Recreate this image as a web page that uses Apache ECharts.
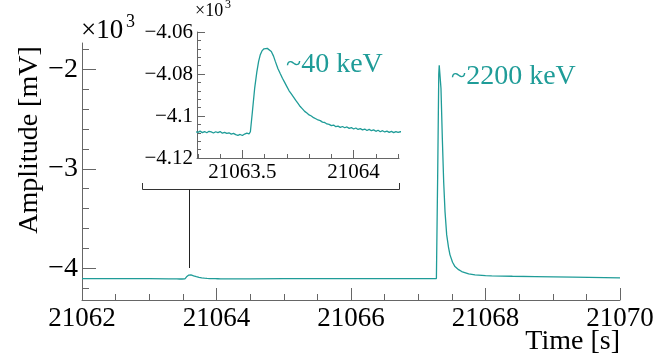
<!DOCTYPE html>
<html>
<head>
<meta charset="utf-8">
<script src="https://cdn.jsdelivr.net/npm/echarts@6/dist/echarts.min.js"></script>
<style>
html,body{margin:0;padding:0;background:#fff;}
#c{width:658px;height:358px;}
</style>
</head>
<body>
<div id="c"></div>
<script>
// ---- data (time in s, amplitude in mV) ----
const times = [
  21062.00, 21062.50, 21063.00,
  21063.29, 21063.30, 21063.31, 21063.32, 21063.33, 21063.34, 21063.35, 21063.36, 21063.37, 21063.38,
  21063.39, 21063.40, 21063.41, 21063.42, 21063.43, 21063.44, 21063.45, 21063.46, 21063.47, 21063.48,
  21063.49, 21063.50, 21063.51, 21063.52, 21063.53, 21063.536, 21063.545, 21063.555, 21063.565, 21063.573,
  21063.58, 21063.588, 21063.597, 21063.605, 21063.612, 21063.62, 21063.63, 21063.64, 21063.648, 21063.66,
  21063.67, 21063.68, 21063.69, 21063.70, 21063.71, 21063.72, 21063.73, 21063.74, 21063.75, 21063.76,
  21063.77, 21063.78, 21063.79, 21063.80, 21063.81, 21063.82, 21063.83, 21063.84, 21063.85, 21063.86,
  21063.87, 21063.88, 21063.89, 21063.90, 21063.91, 21063.92, 21063.93, 21063.94, 21063.95, 21063.96,
  21063.97, 21063.98, 21063.99, 21064.00, 21064.01, 21064.02, 21064.03, 21064.04, 21064.05, 21064.06,
  21064.07, 21064.08, 21064.09, 21064.10, 21064.11, 21064.12, 21064.13, 21064.14, 21064.15, 21064.16,
  21064.17, 21064.18, 21064.19, 21064.20, 21064.21,
  21064.50, 21065.00, 21066.00, 21067.00, 21067.27,
  21067.275, 21067.29, 21067.305, 21067.312, 21067.319, 21067.326, 21067.338, 21067.358, 21067.378, 21067.398,
  21067.423, 21067.45, 21067.472, 21067.51, 21067.546, 21067.60, 21067.646, 21067.75, 21067.844, 21068.00,
  21068.092, 21068.40, 21068.736, 21069.30, 21070.00
];
const amplitudes = [
  -4104, -4105, -4106,
  -4107.5, -4107.8, -4107.2, -4107.9, -4107.4, -4108.0, -4107.3, -4107.6, -4108.1, -4107.5,
  -4107.9, -4107.4, -4108.2, -4107.8, -4108.3, -4108.0, -4108.6, -4108.3, -4108.9, -4109.2,
  -4108.8, -4109.3, -4108.6, -4108.2, -4108.5, -4107.5, -4098, -4087, -4079, -4074,
  -4071, -4069, -4068, -4067.4, -4067.8, -4068.3, -4069.3, -4071.5, -4074, -4077.5,
  -4079.8, -4082, -4084, -4086, -4088, -4089.5, -4091, -4092.6, -4094, -4095.5,
  -4096.6, -4097.8, -4098.6, -4099.5, -4100.0, -4100.8, -4101.3, -4101.9, -4102.2, -4102.9,
  -4103.1, -4103.8, -4104.0, -4104.6, -4104.3, -4105.1, -4104.8, -4105.4, -4105.0, -4105.6,
  -4105.2, -4105.9, -4105.5, -4106.2, -4105.7, -4106.4, -4106.0, -4106.6, -4106.2, -4106.9,
  -4106.4, -4107.0, -4106.6, -4107.3, -4106.8, -4107.5, -4107.0, -4107.6, -4107.2, -4107.8,
  -4107.3, -4107.9, -4107.4, -4107.8, -4107.5,
  -4107, -4106, -4105, -4104, -4104,
  -4100, -3000, -2050, -1960, -1940, -1975, -2191, -2693, -3130, -3431,
  -3665, -3790, -3866, -3940, -3984, -4015, -4034, -4057, -4067, -4074,
  -4077, -4081, -4084, -4089, -4098
];
const mainYMajor = [-4000, -3000, -2000];
const mainYMinor = [-4200, -3800, -3600, -3400, -3200, -2800, -2600, -2400, -2200, -1800];
const insetXMajor = [21063.5, 21064];
const insetXMinor = [21063.3, 21063.4, 21063.6, 21063.7, 21063.8, 21063.9, 21064.1, 21064.2];
const labels = { xTitle: 'Time [s]', yTitle: 'Amplitude [mV]', expBase: '×10', expPow: '3', small: '~40 keV', big: '~2200 keV' };

const data = times.map((t, i) => [t, amplitudes[i]]);
const TEAL = '#1f9c98';
const AX = '#666';
const FONT = '"Liberation Serif", "Times New Roman", serif';
const minus = s => String(s).replace('-', '\u2212');

const chart = echarts.init(document.getElementById('c'), null, { renderer: 'canvas' });
chart.setOption({
  animation: false,
  backgroundColor: '#fff',
  grid: [
    { left: 82, right: 38, top: 43, bottom: 58 },
    { left: 197, top: 32, width: 202, height: 126 }
  ],
  xAxis: [
    { gridIndex: 0, type: 'value', position: 'bottom', min: 21062, max: 21070, interval: 2,
      axisLine: { show: true, lineStyle: { color: AX } },
      axisTick: { inside: true, length: 12, lineStyle: { color: AX } },
      minorTick: { show: true, splitNumber: 4, length: 6, lineStyle: { color: AX } },
      splitLine: { show: false },
      axisLabel: { color: '#000', fontFamily: FONT, fontSize: 27, margin: 5, formatter: v => String(v) } },
    { gridIndex: 1, type: 'value', position: 'bottom', min: 21063.296, max: 21064.204,
      axisLine: { show: true, lineStyle: { color: AX } },
      axisTick: { inside: true, length: 8, customValues: insetXMajor, lineStyle: { color: AX } },
      splitLine: { show: false },
      axisLabel: { color: '#000', fontFamily: FONT, fontSize: 21, margin: 4, customValues: insetXMajor,
                   formatter: v => String(v) } },
    { gridIndex: 1, type: 'value', position: 'bottom', offset: 0, min: 21063.296, max: 21064.204,
      axisLine: { show: false },
      axisTick: { inside: true, length: 4, customValues: insetXMinor, lineStyle: { color: AX } },
      splitLine: { show: false },
      axisLabel: { show: false } }
  ],
  yAxis: [
    { gridIndex: 0, type: 'value', position: 'left', min: -4320, max: -1735,
      axisLine: { show: true, lineStyle: { color: AX } },
      axisTick: { inside: true, length: 14, customValues: mainYMajor, lineStyle: { color: AX } },
      splitLine: { show: false },
      axisLabel: { color: '#000', fontFamily: FONT, fontSize: 28, margin: 4, customValues: mainYMajor,
                   formatter: v => minus(v / 1000) } },
    { gridIndex: 0, type: 'value', position: 'left', offset: 0, min: -4320, max: -1735,
      axisLine: { show: false },
      axisTick: { inside: true, length: 7, customValues: mainYMinor, lineStyle: { color: AX } },
      splitLine: { show: false },
      axisLabel: { show: false } },
    { gridIndex: 1, type: 'value', position: 'left', min: -4120, max: -4060, interval: 20,
      axisLine: { show: true, lineStyle: { color: AX } },
      axisTick: { inside: true, length: 8, lineStyle: { color: AX } },
      minorTick: { show: true, splitNumber: 5, length: 4, lineStyle: { color: AX } },
      splitLine: { show: false },
      axisLabel: { color: '#000', fontFamily: FONT, fontSize: 21, margin: 4,
                   formatter: v => minus(v / 1000) } }
  ],
  series: [
    { type: 'line', xAxisIndex: 0, yAxisIndex: 0, data: data, showSymbol: false, symbol: 'none',
      lineStyle: { color: TEAL, width: 1.3 }, clip: true },
    { type: 'line', xAxisIndex: 1, yAxisIndex: 2, data: data, showSymbol: false, symbol: 'none',
      lineStyle: { color: TEAL, width: 1.3 }, clip: true }
  ],
  graphic: [
    { type: 'polyline', shape: { points: [[142.5, 183], [142.5, 189.5], [399.5, 189.5], [399.5, 183]] },
      style: { stroke: '#333', lineWidth: 1, fill: null } },
    { type: 'line', shape: { x1: 189.5, y1: 189.5, x2: 189.5, y2: 268 },
      style: { stroke: '#222', lineWidth: 1 } },
    { type: 'text', x: 30, y: 140, rotation: Math.PI / 2,
      style: { text: labels.yTitle, font: '28px ' + FONT, fill: '#000', textAlign: 'center', textVerticalAlign: 'middle' } },
    { type: 'text', x: 620, y: 342,
      style: { text: labels.xTitle, font: '28px ' + FONT, fill: '#000', textAlign: 'right', textVerticalAlign: 'middle' } },
    { type: 'text', x: 81, y: 31,
      style: { text: labels.expBase, font: '27px ' + FONT, fill: '#000', textAlign: 'left', textVerticalAlign: 'middle' } },
    { type: 'text', x: 126, y: 22,
      style: { text: labels.expPow, font: '18px ' + FONT, fill: '#000', textAlign: 'left', textVerticalAlign: 'middle' } },
    { type: 'text', x: 195, y: 11,
      style: { text: labels.expBase, font: '18px ' + FONT, fill: '#000', textAlign: 'left', textVerticalAlign: 'middle' } },
    { type: 'text', x: 225, y: 5,
      style: { text: labels.expPow, font: '12px ' + FONT, fill: '#000', textAlign: 'left', textVerticalAlign: 'middle' } },
    { type: 'text', x: 286, y: 65,
      style: { text: labels.small, font: '28px ' + FONT, fill: TEAL, textAlign: 'left', textVerticalAlign: 'middle' } },
    { type: 'text', x: 451, y: 77,
      style: { text: labels.big, font: '28px ' + FONT, fill: TEAL, textAlign: 'left', textVerticalAlign: 'middle' } }
  ]
});
</script>
</body>
</html>
